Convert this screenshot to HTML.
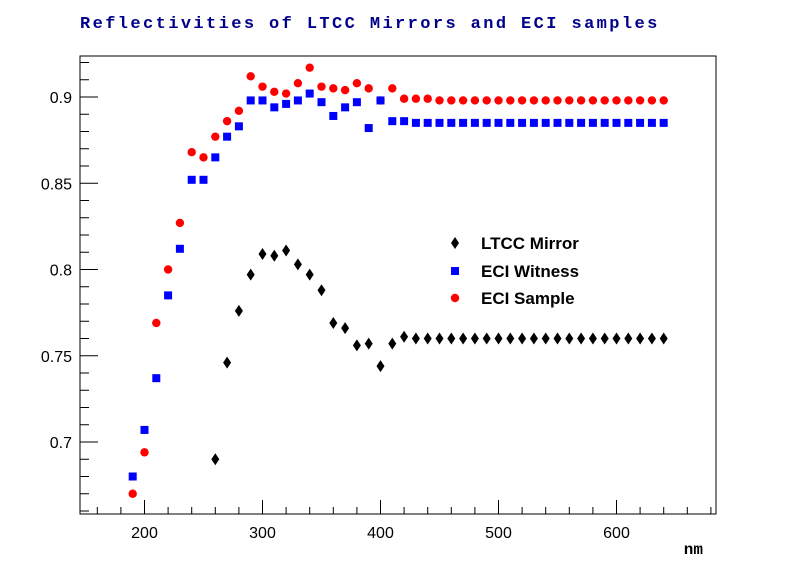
<!DOCTYPE html>
<html><head><meta charset="utf-8"><style>body{margin:0;background:#fff}svg{display:block}</style></head>
<body>
<svg id="c" width="796" height="572" xmlns="http://www.w3.org/2000/svg"></svg>
<script>
const wavelengths=[190,200,210,220,230,240,250,260,270,280,290,300,310,320,330,340,350,360,370,380,390,400,410,420,430,440,450,460,470,480,490,500,510,520,530,540,550,560,570,580,590,600,610,620,630,640];
const eciSample=[0.670,0.694,0.769,0.800,0.827,0.868,0.865,0.877,0.886,0.892,0.912,0.906,0.903,0.902,0.908,0.917,0.906,0.905,0.904,0.908,0.905,0.898,0.905,0.899,0.899,0.899,0.898,0.898,0.898,0.898,0.898,0.898,0.898,0.898,0.898,0.898,0.898,0.898,0.898,0.898,0.898,0.898,0.898,0.898,0.898,0.898];
const eciWitness=[0.680,0.707,0.737,0.785,0.812,0.852,0.852,0.865,0.877,0.883,0.898,0.898,0.894,0.896,0.898,0.902,0.897,0.889,0.894,0.897,0.882,0.898,0.886,0.886,0.885,0.885,0.885,0.885,0.885,0.885,0.885,0.885,0.885,0.885,0.885,0.885,0.885,0.885,0.885,0.885,0.885,0.885,0.885,0.885,0.885,0.885];
const ltccWl=[260,270,280,290,300,310,320,330,340,350,360,370,380,390,400,410,420,430,440,450,460,470,480,490,500,510,520,530,540,550,560,570,580,590,600,610,620,630,640];
const ltccMirror=[0.690,0.746,0.776,0.797,0.809,0.808,0.811,0.803,0.797,0.788,0.769,0.766,0.756,0.757,0.744,0.757,0.761,0.760,0.760,0.760,0.760,0.760,0.760,0.760,0.760,0.760,0.760,0.760,0.760,0.760,0.760,0.760,0.760,0.760,0.760,0.760,0.760,0.760,0.760];
const xTicks=[200,300,400,500,600];
const yTicks=[0.7,0.75,0.8,0.85,0.9];
const yLabels=["0.7","0.75","0.8","0.85","0.9"];

const svg=document.getElementById('c');const NS='http://www.w3.org/2000/svg';
const L=80,R=716,T=56,B=514;
const X=v=>144.5+(v-200)*1.18;
const Y=v=>97+(0.9-v)*1725;
function mk(t,a,p){const e=document.createElementNS(NS,t);for(const k in a)e.setAttribute(k,a[k]);(p||svg).appendChild(e);return e;}
const title=mk('text',{x:80,y:28,'font-family':'Liberation Mono, monospace','font-weight':'bold','font-size':'17','letter-spacing':'2.4',fill:'#00008b'});
title.textContent='Reflectivities of LTCC Mirrors and ECI samples';


const fr=mk('rect',{x:L,y:T,width:R-L,height:B-T,fill:'none',stroke:'#000','stroke-width':1});


for(let v=160;v<=680;v+=20){const maj=v%100===0;mk('line',{x1:X(v),x2:X(v),y1:B,y2:B-(maj?14:7),stroke:'#000'});}
xTicks.forEach(v=>{const t=mk('text',{x:X(v),y:B+24,'text-anchor':'middle','font-family':'Liberation Sans, sans-serif','font-size':'16'});t.textContent=v;

});
for(let i=66;i<=92;i++){const v=i/100;const maj=i%5===0;mk('line',{x1:L,x2:L+(maj?18:9),y1:Y(v),y2:Y(v),stroke:'#000'});}
yTicks.forEach((v,i)=>{const t=mk('text',{x:L-8,y:Y(v)+6,'text-anchor':'end','font-family':'Liberation Sans, sans-serif','font-size':'16'});t.textContent=yLabels[i];

});
const xt=mk('text',{x:703,y:554,'text-anchor':'end','font-family':'Liberation Mono, monospace','font-weight':'bold','font-size':'16'});xt.textContent='nm';


function diamond(x,y,g){return mk('path',{d:`M${x} ${y-6}L${x+4} ${y}L${x} ${y+6}L${x-4} ${y}Z`,fill:'#000'},g);}
function square(x,y,g){return mk('rect',{x:x-4,y:y-4,width:8,height:8,fill:'#0000ff'},g);}
function circ(x,y,g){return mk('circle',{cx:x,cy:y,r:4.2,fill:'#ff0000'},g);}
const gR=mk('g',{});
const gB=mk('g',{});
const gK=mk('g',{});
wavelengths.forEach((w,i)=>{const s=square(X(w),Y(eciWitness[i]),gB);

});
wavelengths.forEach((w,i)=>{const c=circ(X(w),Y(eciSample[i]),gR);

});
ltccWl.forEach((w,i)=>{const d=diamond(X(w),Y(ltccMirror[i]),gK);

});
const lg=mk('g',{});
const items=[['LTCC Mirror',diamond,243],['ECI Witness',square,271],['ECI Sample',circ,298]];
items.forEach(([n,f,y])=>{f(455,y,lg);const t=mk('text',{x:481,y:y+6,'font-family':'Liberation Sans, sans-serif','font-weight':'bold','font-size':'17'},lg);t.textContent=n;

});
</script>
</body></html>
